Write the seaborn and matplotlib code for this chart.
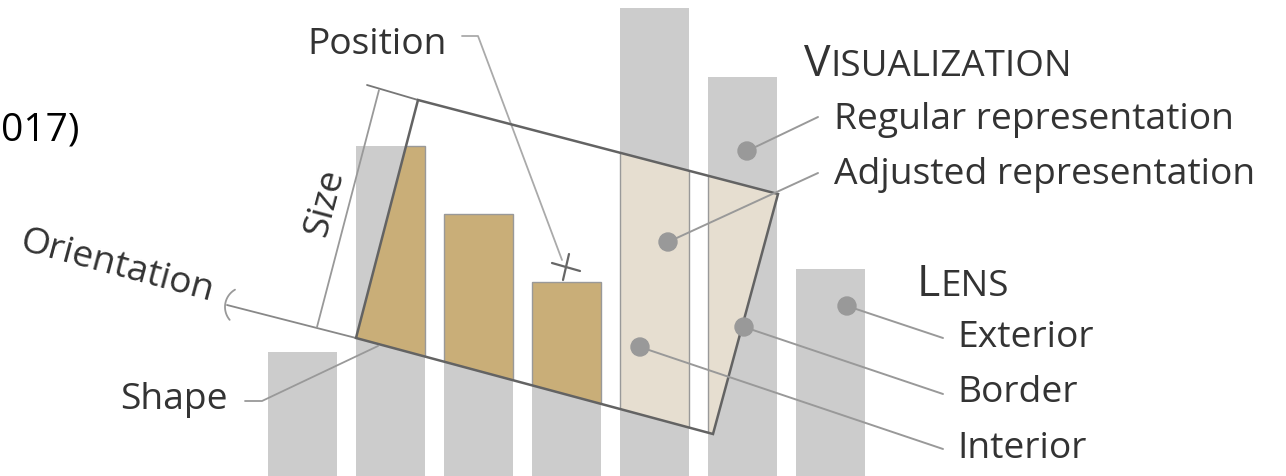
import numpy as np
import matplotlib
matplotlib.use("Agg")
import matplotlib.pyplot as plt
from matplotlib.patches import Polygon, Circle
import seaborn as sns

# bars of the chart being lensed (heights, in px)
bars = ["b1", "b2", "b3", "b4", "b5", "b6", "b7"]
heights = [124, 330, 262, 194, 468, 399, 207]
lens_fill = ["#CCCCCC", "#C9AE78", "#C9AE78", "#C9AE78", "#E6DED0", "#E6DED0", "#CCCCCC"]

vis_items = ["Regular representation", "Adjusted representation"]
lens_items = ["Exterior", "Border", "Interior"]

sns.set_theme(style="white")
plt.rcParams["font.family"] = ["Open Sans", "DejaVu Sans"]

W, H = 1286, 476
TXT = "#333333"
LEAD = "#999999"
FS = 26.8

fig = plt.figure(figsize=(W / 100, H / 100), dpi=100)
ax = fig.add_axes([0, 0, 1, 1])
sns.barplot(x=bars, y=heights, color="#CCCCCC", saturation=1, width=0.784,
            linewidth=0, ax=ax)
n0 = len(ax.patches)
sns.barplot(x=bars, y=heights, hue=bars, palette=lens_fill, saturation=1, width=0.784,
            edgecolor="#999999", linewidth=1, legend=False, ax=ax)
lens_bars = ax.patches[n0:]
ax.set_xlim(-302.5 / 88, (W - 302.5) / 88)
ax.set_ylim(0, H)
ax.axis("off")

# overlay in pixel coordinates
ov = fig.add_axes([0, 0, 1, 1])
ov.set_xlim(0, W)
ov.set_ylim(H, 0)
ov.axis("off")
ov.patch.set_alpha(0)

lens = [(418, 100), (778, 194), (713, 434), (356, 338)]
clip = Polygon(lens, closed=True, transform=ov.transData)
for p in lens_bars:
    p.set_clip_path(clip)
ov.add_patch(Polygon(lens, closed=True, fill=False, edgecolor="#636363", lw=1.8, zorder=3))

# size / orientation guides
ov.plot([367, 418], [85, 100], color="#777777", lw=1.3)
ov.plot([227, 356], [305, 338], color="#888888", lw=1.3)
ov.plot([379, 317], [90, 327], color="#999999", lw=1.3)
t = np.radians(np.linspace(140, 240, 30))
ov.plot(245 + 20 * np.cos(t), 307 + 20 * np.sin(t), color="#999999", lw=1.3)

# position cross
ov.plot([552, 580], [263, 271], color="#666666", lw=1.6)
ov.plot([569, 563], [254, 280], color="#666666", lw=1.6)

# leaders
ov.plot([462, 478, 562], [36, 36, 260], color="#AAAAAA", lw=1.3)
ov.plot([245, 262, 378], [401, 401, 346], color=LEAD, lw=1.3)

callouts = [((747, 151), (818, 117)), ((668, 242), (818, 173)),
            ((847, 306), (943, 338)), ((744, 327), (943, 394)), ((640, 347), (943, 449))]
for (x0, y0), (x1, y1) in callouts:
    ov.plot([x0, x1], [y0, y1], color=LEAD, lw=1.4, zorder=4)
    ov.add_patch(Circle((x0, y0), 9, color=LEAD, zorder=5))

# labels
ov.text(307, 45, "Position", fontsize=FS, color=TXT, ha="left", va="center")
ov.text(228, 400, "Shape", fontsize=FS, color=TXT, ha="right", va="center")
ov.text(325, 203, "Size", fontsize=FS, color=TXT, ha="center", va="center",
        rotation=75, rotation_mode="anchor")
ov.text(117, 267, "Orientation", fontsize=FS, color=TXT, ha="center", va="center",
        rotation=-15, rotation_mode="anchor")
for txt, y in zip(vis_items, [120, 175]):
    ov.text(834, y, txt, fontsize=FS, color=TXT, ha="left", va="center")
for txt, y in zip(lens_items, [338, 393, 449]):
    ov.text(957, y, txt, fontsize=FS, color=TXT, ha="left", va="center")
ov.text(1, 130, "017)", fontsize=28, color="black", ha="left", va="center")

# small-caps headers
def small_caps(x, y, first, rest):
    t1 = ov.text(x, y, first, fontsize=32, color=TXT, ha="left", va="baseline")
    fig.canvas.draw()
    bb = t1.get_window_extent()
    x2 = ov.transData.inverted().transform((bb.x1, bb.y0))[0]
    ov.text(x2, y, rest, fontsize=26.5, color=TXT, ha="left", va="baseline")

small_caps(804, 76, "V", "ISUALIZATION")
small_caps(917, 296, "L", "ENS")

fig.savefig("out.png", dpi=100)
